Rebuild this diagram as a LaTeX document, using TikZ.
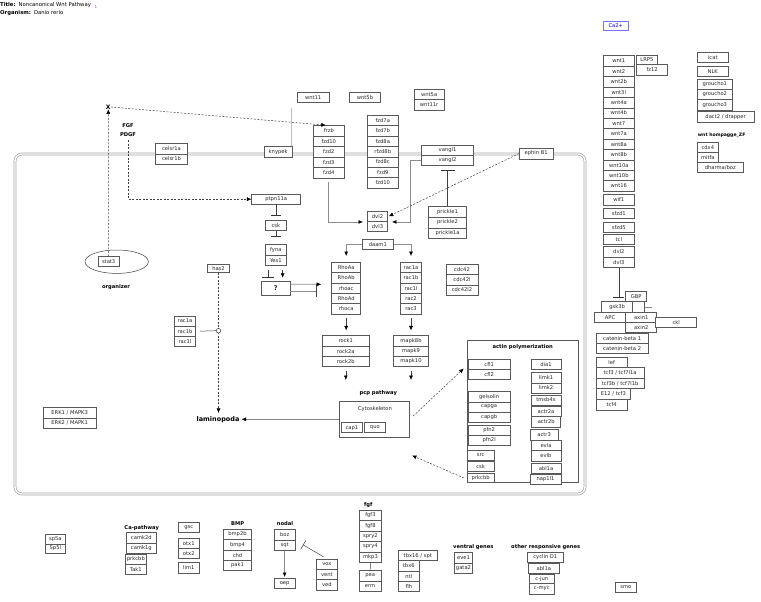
\documentclass[tikz,border=0pt]{standalone}
\usepackage{fontspec}
\setmainfont{DejaVu Sans}
\usetikzlibrary{arrows.meta,shapes.geometric}
\tikzset{
 gbox/.style={draw=black!65, fill=white, line width=0.5pt, inner sep=0pt, font=\fontsize{5.2}{6}\selectfont, text=black!85},
 gtext/.style={font=\fontsize{5.2}{6}\selectfont, text=black!85, inner sep=0pt},
 lbl/.style={font=\fontsize{5.2}{6}\selectfont\bfseries, text=black, inner sep=0pt},
 conn/.style={draw=black!75, line width=0.5pt},
 gline/.style={draw=black!45, line width=0.7pt},
 dline/.style={conn, dash pattern=on 2pt off 1.5pt},
 tip/.style={-{Latex[length=4.5pt,width=4pt,color=black]}},
 inh/.style={-{Bar[width=#1,color=black!80]}},
}
\newcommand{\mybox}[6]{%
  \pgfmathsetmacro{\myw}{(#4)-(#2)}%
  \pgfmathsetmacro{\myh}{(#5)-(#3)}%
  \pgfmathsetmacro{\mycx}{((#2)+(#4))/2}%
  \pgfmathsetmacro{\mycy}{((#3)+(#5))/2}%
  \node[gbox, minimum width=\myw pt, minimum height=\myh pt] (#1) at (\mycx,\mycy) {#6};%
}
\newcommand{\mycol}[6]{%
  \foreach \mytxt [count=\myi] in {#6} {%
    \pgfmathsetmacro{\mya}{(#3)+(\myi-1)*(#5)}%
    \pgfmathsetmacro{\myb}{\mya+(#5)}%
    \mybox{#1-\myi}{#2}{\mya}{#4}{\myb}{\mytxt}%
  }%
}
\begin{document}
\begin{tikzpicture}[x=1pt,y=-1pt]
\useasboundingbox (0,0) rectangle (761,602);

% title
\node[anchor=west, inner sep=0pt, font=\fontsize{5.3}{6}\selectfont] (title) at (0,5.5) {\textbf{Title:}\hspace{3pt}Noncanonical Wnt Pathway};
\node[inner sep=0pt, font=\fontsize{4}{5}\selectfont, text=violet!70] (tnum) at (96,7) {1};
\node[anchor=west, inner sep=0pt, font=\fontsize{5.3}{6}\selectfont] (organism) at (0,13.2) {\textbf{Organism:}\hspace{3pt}Danio rerio};

% membrane
\draw[draw=black!35, line width=0.7pt, double=white, double distance=1.4pt, rounded corners=7pt] (15,154) rectangle (585,494);

% labels
\node[lbl, font=\fontsize{6}{7}\selectfont\bfseries] (X) at (108.3,107) {X};
\node[lbl] (fgf) at (128,125.7) {FGF};
\node[lbl] (pdgf) at (128,135) {PDGF};
\node[lbl] (organizer) at (116,287.3) {organizer};
\node[lbl, font=\fontsize{6.5}{7}\selectfont\bfseries] (lamino) at (218,419.3) {laminopoda};
\node[lbl] (pcp) at (378.3,393.3) {pcp pathway};

% membrane region
\mycol{celsr}{155.7}{143.3}{187.3}{10.5}{celsr1a,celsr1b}
\mybox{knypek}{264}{146.7}{292.3}{157.3}{knypek}
\mybox{wnt11}{297.3}{92.3}{329}{102.7}{wnt11}
\mybox{wnt5b}{349.3}{92.3}{380.7}{102.7}{wnt5b}
\mycol{w5}{414.3}{89}{444}{10.5}{wnt5a,wnt11r}
\mycol{fz}{313.3}{125.7}{344.3}{10.5}{frzb,fzd10,fzd2,fzd3,fzd4}
\mycol{fzs}{367.3}{115}{398.3}{10.45}{fzd7a,fzd7b,fzd8a,rfzd8b,fzd8c,fzd9,fzd10}
\mycol{vangl}{421.7}{145}{473.3}{10.35}{vangl1,vangl2}
\mybox{ephin}{519.3}{148}{553}{159}{ephin B1}

% inside the cell
\mycol{dvl}{367.3}{211.7}{387.7}{10}{dvl2,dvl3}
\mycol{prk}{428.3}{206.7}{466.7}{10.55}{prickle1,prickle2,prickle1a}
\mybox{daam}{362.3}{239.3}{393.3}{249.3}{daam1}
\mycol{rho}{331.7}{262.3}{360.7}{10.35}{RhoAa,RhoAb,rhoac,RhoAd,rhoca}
\mycol{rac}{400.3}{262.3}{421.7}{10.35}{rac1a,rac1b,rac1l,rac2,rac3}
\mycol{cdc}{446}{264.3}{478}{10.3}{cdc42,cdc42l,cdc42l2}
\mybox{ptpn}{251.7}{194}{300.7}{204.3}{ptpn11a}
\mybox{csk}{265.7}{220}{286}{230.7}{csk}
\mycol{fy}{265.7}{244.3}{286}{10.7}{fyna,Yes1}
\mybox{q}{261.7}{281}{290}{295.3}{\fontsize{6.5}{7}\selectfont\bfseries ?}
\mybox{has2}{207.7}{264}{229.3}{272.7}{has2}
\mycol{racl}{174.3}{316}{195.7}{10.2}{rac1a,rac1b,rac1l}
\node[ellipse, draw=black!75, line width=0.5pt, minimum width=63.4pt, minimum height=23.4pt, inner sep=0pt] (orgz) at (116.7,261.7) {};
\mybox{stat3}{98.3}{256.7}{119}{266.7}{stat3}
\mycol{erk}{43.3}{407.7}{96}{10.3}{ERK1 / MAPK3,ERK2 / MAPK1}
\mycol{rock}{322.3}{335.7}{369.3}{10.33}{rock1,rock2a,rock2b}
\mycol{mapk}{393.3}{335.7}{428.7}{10.33}{mapk8b,mapk9,mapk10}
\mybox{cyto}{339.3}{401.7}{409.3}{437.3}{}
\node[gtext] (cytol) at (375,409) {Cytoskeleton};
\mybox{cap1}{341}{422.7}{362.7}{432.7}{cap1}
\mybox{quo}{364}{422.7}{385.7}{432.7}{quo}

% actin polymerization
\mybox{actin}{467.3}{340}{578.3}{482.7}{}
\node[lbl] (actinl) at (522.7,346.7) {actin polymerization};
\mycol{cfl}{468.3}{359.3}{510}{10.2}{cfl1,cfl2}
\mycol{gel}{468.3}{391.7}{510}{10.2}{gelsolin,capga,capgb}
\mycol{pfn}{468.3}{425}{510}{10.35}{pfn2,pfn2l}
\mybox{src}{467.3}{450}{494}{460}{src}
\mybox{csktwo}{467.3}{461.7}{494}{471}{csk}
\mybox{prkc}{467.3}{473.3}{494}{482.7}{prkcbb}
\mybox{dia}{531}{359.3}{561}{369.3}{dia1}
\mycol{limk}{531}{372.7}{561}{10.15}{limk1,limk2}
\mybox{tmsb}{531}{395}{561}{405}{tmsb4x}
\mybox{actra}{531}{406.7}{561}{416.7}{actr2a}
\mybox{actrb}{531.7}{416.7}{560.7}{427}{actr2b}
\mybox{actrc}{530}{429.3}{558.3}{440}{actr3}
\mycol{evl}{531}{440}{561}{10.5}{evla,evlb}
\mybox{abla}{531}{463.3}{561}{473.3}{abl1a}
\mybox{nap}{530}{474.3}{561}{484.3}{nap1l1}

% right side
\node[gbox, draw=blue!55, text=blue!85!black, minimum width=25pt, minimum height=8.3pt] (ca) at (615.8,25.85) {Ca2+};
\mycol{wnt}{603.3}{55.7}{634.3}{10.42}{wnt1,wnt2,wnt2b,wnt3l,wnt4a,wnt4b,wnt7,wnt7a,wnt8a,wnt8b,wnt10a,wnt10b,wnt16}
\mybox{lrp}{636}{55.7}{657.7}{64.3}{LRP5}
\mybox{fzt}{636.7}{64.3}{667.7}{75}{fz12}
\mybox{icat}{697.3}{52.3}{728.3}{62.3}{icat}
\mybox{nlk}{697.3}{66.7}{728.3}{76.7}{NLK}
\mycol{gro}{697.3}{79}{732.3}{10.33}{groucho1,groucho2,groucho3}
\mybox{dact}{697.3}{111.7}{754}{122.3}{dact2 / drapper}
\node[lbl, font=\fontsize{4.6}{5}\selectfont\bfseries] (zf) at (721.7,135.7) {wnt hompagge\_ZF};
\mycol{cdx}{697.3}{142.3}{718.3}{10.2}{cdx4,mitfa}
\mybox{dharma}{697.3}{162.7}{743.3}{172.7}{dharma/boz}
\mybox{wif}{603.3}{194}{634.3}{205}{wif1}
\mybox{sfzda}{603.3}{208.3}{634.3}{218.3}{sfzd1}
\mybox{sfzdb}{603.3}{222.3}{634.3}{232.7}{sfzd5}
\mybox{tcl}{603.3}{234.3}{634.3}{244.3}{tcl}
\mycol{dvr}{603.3}{246.7}{634.3}{10.5}{dvl2,dvl3}
\mybox{gbp}{625.7}{291.7}{646.7}{301}{GBP}
\mybox{gsk}{601.7}{301.7}{632.7}{312.3}{gsk3b}
\mybox{gske}{632.7}{301.7}{644.3}{312.3}{}
\mybox{apc}{594.3}{312.3}{625.7}{322.3}{APC}
\mycol{axin}{625.7}{312.3}{656.7}{10.2}{axin1,axin2}
\mybox{ckl}{655.7}{317.7}{696.7}{327.3}{ckl}
\mycol{cat}{596}{333.3}{648.3}{10.2}{catenin-beta 1,catenin-beta 2}
\mybox{lef}{596}{357.7}{627.3}{367.7}{lef}
\mycol{tcf}{596}{367.7}{644.3}{10.5}{tcf3 / tcf7l1a,tcf3b / tcf7l1b}
\mybox{etw}{596}{388.7}{630.7}{399.3}{E12 / tcf3}
\mybox{tcff}{596}{399.3}{627.3}{410}{tcf4}

% bottom
\mycol{sp}{45}{534.3}{65.7}{9.5}{sp5a,Sp5l}
\node[lbl] (capath) at (141.7,527.7) {Ca-pathway};
\mycol{camk}{126}{532.7}{156.7}{10.3}{camk2d,camk1g}
\mycol{prkb}{125}{554.3}{146.7}{10}{prkcbb,Tak1}
\mybox{gsc}{178.3}{522.3}{199.3}{532.7}{gsc}
\mycol{otx}{178.3}{538.3}{199.3}{10}{otx1,otx2}
\mybox{lim}{178.3}{562.7}{199.3}{573.3}{lim1}
\node[lbl] (bmpl) at (237.7,523.3) {BMP};
\mycol{bmp}{223.3}{529}{251.7}{10.43}{bmp2b,bmp4,chd,pak1}
\node[lbl] (nodall) at (285,523.3) {nodal};
\mycol{nod}{274.3}{529.3}{295}{10.7}{boz,sqt}
\mybox{oep}{274.3}{578.3}{295}{588.3}{oep}
\mycol{vox}{316}{559}{337.7}{10.33}{vox,vent,ved}
\node[lbl] (fgfl) at (368.3,505) {fgf};
\mycol{fgf}{359.3}{510}{381.7}{10.46}{fgf3,fgf8,spry2,spry4,mkp3}
\mycol{pea}{359.3}{570.7}{381}{10.3}{pea,erm}
\mybox{tbxs}{398.3}{550.7}{437.3}{560.7}{tbx16 / spt}
\mycol{tbx}{398.3}{560.7}{419.3}{10.33}{tbx6,ntl,flh}
\node[lbl] (ventl) at (473.3,547.3) {ventral genes};
\mycol{eve}{454.3}{552.7}{472.7}{10.3}{eve1,gata2}
\node[lbl] (othl) at (545.7,547.3) {other responsive genes};
\mybox{cyc}{527.3}{552.3}{563.3}{562.3}{cyclin D1}
\mybox{ablb}{528.3}{563.3}{559.3}{573.3}{abl1a}
\mybox{cjun}{529.3}{574}{554.3}{583.3}{c-jun}
\mybox{cmyc}{529.3}{583.3}{554.3}{594.3}{c-myc}
\mybox{smo}{615}{582.7}{636.7}{592.3}{smo}

% connectors
\draw[dline, tip] (stat3.north) -- (X.south);
\draw[dline, tip, shorten >=3pt] (X.east) -- (fz-1.north);
\draw[dline, tip, shorten <=3pt] (pdgf.south) |- (ptpn.west);
\coordinate (kt) at (291,108);
\draw[gline, draw=black!25] (kt) -- (kt |- knypek.north);
\draw[gline, tip, shorten <=3.4pt, shorten >=4pt] (fz-5.south) |- (dvl-1.south west);
\draw[gline, tip, shorten >=4pt] (vangl-2.west) -- ++(-10.7,0) |- (dvl-1.south east);
\draw[dline, tip, shorten >=1pt] (ephin.west) -- (dvl-1.east);
\draw[conn, inh=14pt, shorten >=3.6pt] (prk-1.north) -- (prk-1.north |- vangl-2.south);
\draw[gline, tip, shorten >=6pt] (daam.west) -| (rho-1.north);
\draw[gline, tip, shorten >=6pt] (daam.east) -| (rac-1.north);
\draw[conn, tip, shorten <=4pt, shorten >=5pt] (rho-5.south) -- (rho-5.south |- rock-1.north);
\draw[conn, tip, shorten <=4pt, shorten >=5pt] (rac-5.south) -- (rac-5.south |- mapk-1.north);
\coordinate (pcpa) at (345.8,380);
\coordinate (pcpb) at (411,380);
\draw[conn, tip, shorten <=4pt] (rock-3.south) -- (pcpa);
\draw[conn, tip, shorten <=4pt] (mapk-3.south) -- (pcpb);
\draw[conn, tip, shorten >=2pt] (cyto.west) -- (lamino.east);
\draw[dline, tip, shorten <=5pt, shorten >=6pt] (cyto.east) -- (cfl-1.west);
\coordinate (ada) at (464,478);
\coordinate (adb) at (412,455.5);
\draw[dline, tip] (ada) -- (adb);
\draw[dline, tip, shorten >=3pt] (has2.south) -- (has2.south |- lamino.north);
\node[circle, draw=black!75, fill=white, minimum size=4.6pt, inner sep=0pt, line width=0.5pt] (circ) at (218.5,330.7) {};
\draw[conn, shorten <=3.6pt] (racl-2.east) -- (circ.west);
\draw[conn, inh=10pt, shorten >=4pt] (ptpn.south) -- (ptpn.south |- csk.north);
\draw[conn, inh=10pt, shorten >=7.6pt] (csk.south) -- (csk.south |- fy-1.north);
\draw[conn, inh=12pt, shorten <=4pt, shorten >=3.3pt] ([xshift=-7.5pt]fy-2.south) -- ([xshift=-7.5pt]fy-2.south |- q.north);
\draw[conn, tip, shorten <=4pt, shorten >=3pt] ([xshift=6.8pt]fy-2.south) -- ([xshift=6.8pt]fy-2.south |- q.north);
\coordinate (qa) at (316.7,284.3);
\draw[gline] ([yshift=3.85pt]q.east) -- (qa);
\draw[gline] ([yshift=-3.55pt]q.east) -- ([yshift=-3.55pt]q.east -| qa);
\draw[conn] (qa) -- ++(0,13);
\draw[conn, tip] (qa) -- ++(4.5,0);
\draw[conn, inh=11pt, shorten >=4pt] (dvr-2.south) -- (dvr-2.south |- gsk.north);
\draw[gline] (gske.east) -- ++(7.4,0);
\draw[gline, tip, shorten >=1pt] (nod-2.south) -- (oep.north);
\draw[conn, inh=10pt, shorten <=4pt, shorten >=9pt] (vox-1.north) -- (nod-1.south east);
\draw[conn] (fgf-5.south) -- (pea-1.north);
\end{tikzpicture}
\end{document}
